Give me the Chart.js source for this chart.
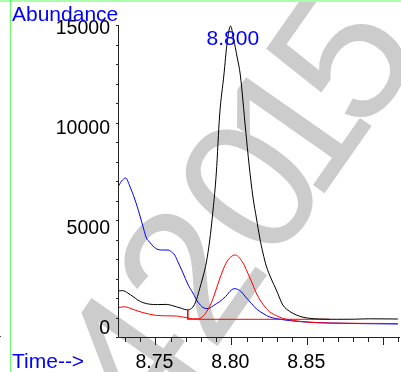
<!DOCTYPE html>
<html>
<head>
<meta charset="utf-8">
<script src="https://cdn.jsdelivr.net/npm/chart.js@4.4.0/dist/chart.umd.min.js"></script>
<style>
    html, body { margin: 0; padding: 0; background: #fff; }
    #wrap { width: 401px; height: 372px; }
</style>
</head>
<body>
<div id="wrap"><canvas id="chromChart" width="401" height="372"></canvas></div>
<script>
// Chromatogram data (retention time in min, abundance)
const blackTime = [8.7254, 8.7285, 8.7318, 8.7353, 8.7384, 8.7418, 8.7462, 8.7515, 8.7572, 8.7607,
    8.7638, 8.7673, 8.7706, 8.7732, 8.7752, 8.7772, 8.7791, 8.7813, 8.7836, 8.7857,
    8.7879, 8.7901, 8.7923, 8.7951, 8.7972, 8.7995, 8.8015, 8.8038, 8.8059, 8.8094,
    8.8117, 8.8142, 8.8166, 8.8186, 8.8208, 8.8230, 8.8263, 8.8296, 8.8339, 8.8384,
    8.8428, 8.8471, 8.8515, 8.8581, 8.8691, 8.8811, 8.8910, 8.9096];
const blackAbund = [1800, 1820, 1700, 1520, 1350, 1220, 1140, 1120, 1130, 1080,
    1010, 930, 860, 900, 1050, 1400, 1900, 2500, 3250, 4300,
    5800, 7700, 10600, 12600, 14200, 15050, 14400, 13500, 12600, 9850,
    8100, 6500, 5400, 4500, 3700, 3050, 2400, 1850, 1100, 780,
    600, 490, 435, 400, 385, 390, 410, 400];

const blueTime = [8.7254, 8.7278, 8.7305, 8.7331, 8.7364, 8.7397, 8.7423, 8.7441, 8.7462, 8.7484,
    8.7509, 8.7541, 8.7583, 8.7607, 8.7627, 8.7649, 8.7682, 8.7713, 8.7747, 8.7780,
    8.7813, 8.7838, 8.7857, 8.7884, 8.7923, 8.7963, 8.8000, 8.8022, 8.8041, 8.8066,
    8.8094, 8.8132, 8.8166, 8.8208, 8.8252, 8.8296, 8.8384, 8.8471, 8.8647, 8.8844, 8.9096];
const blueAbund = [7000, 7300, 7450, 7050, 6400, 5600, 4900, 4450, 4250, 4050,
    3900, 3850, 3850, 3750, 3600, 3250, 2700, 2150, 1700, 1250,
    980, 920, 940, 1080, 1270, 1530, 1850, 1920, 1880, 1760,
    1500, 1180, 900, 680, 500, 420, 320, 260, 200, 170, 150];

const redTime = [8.7254, 8.7298, 8.7353, 8.7418, 8.7462, 8.7507, 8.7572, 8.7638, 8.7680, 8.7714,
    8.7745, 8.7780, 8.7805, 8.7824, 8.7844, 8.7868, 8.7890, 8.7916, 8.7945, 8.7969,
    8.7989, 8.8009, 8.8028, 8.8048, 8.8066, 8.8088, 8.8109, 8.8134, 8.8164, 8.8193,
    8.8230, 8.8252, 8.8296, 8.8339, 8.8384, 8.8471, 8.8581, 8.8713, 8.8910, 8.9096];
const redAbund = [970, 1010, 880, 720, 640, 580, 560, 550, 500, 450,
    410, 410, 480, 620, 850, 1200, 1650, 2250, 2850, 3250,
    3450, 3570, 3600, 3500, 3330, 3050, 2680, 2250, 1700, 1300,
    930, 760, 570, 430, 360, 265, 210, 190, 180, 175];

// integration baseline for the red peak
const baseTime = [8.7713, 8.7713, 8.8647];
const baseAbund = [850, 385, 385];

const yTickLabels = [0, 5000, 10000, 15000];
const xTickLabels = ["8.75", "8.80", "8.85"];
const peakLabel = "8.800";
const peakTime = 8.80;

// watermark glyphs and their offsets along the text line (in em)
const wmChars = ["4", "2", "0", "1", "5"];
const wmOffsets = [-1.11, -0.556, 0, 0.40, 0.84];

const FONT = '"Liberation Sans", Arial, Helvetica, sans-serif';

function toPoints(xs, ys) {
    return xs.map((x, i) => ({ x: x, y: ys[i] }));
}

// background, watermark, axes, tick marks and titles
const chromPlugin = {
    id: "chromDecor",
    beforeDraw(chart) {
        const ctx = chart.ctx;
        const em = 190;
        ctx.save();
        ctx.fillStyle = "#fff";
        ctx.fillRect(0, 0, chart.width, chart.height);
        // watermark, "0" centred near (247,185)
        ctx.translate(303, 224);
        ctx.rotate(-55 * Math.PI / 180);
        ctx.font = em + "px " + FONT;
        ctx.fillStyle = "#cccccc";
        ctx.textAlign = "center";
        ctx.textBaseline = "alphabetic";
        wmChars.forEach((c, i) => ctx.fillText(c, wmOffsets[i] * em, 0));
        ctx.restore();
    },
    afterDraw(chart) {
        const ctx = chart.ctx;
        const area = chart.chartArea;
        const xs = chart.scales.x;
        const ys = chart.scales.y;
        ctx.save();

        // green frame lines
        ctx.strokeStyle = "#aaffaa";
        ctx.lineWidth = 2;
        ctx.beginPath();
        ctx.moveTo(0, 1);
        ctx.lineTo(chart.width, 1);
        ctx.stroke();
        ctx.strokeStyle = "#66ff66";
        ctx.lineWidth = 1;
        ctx.beginPath();
        ctx.moveTo(10.5, 0);
        ctx.lineTo(10.5, chart.height);
        ctx.stroke();

        // axis lines
        ctx.strokeStyle = "#222";
        ctx.lineWidth = 1;
        ctx.beginPath();
        ctx.moveTo(area.left + 0.5, area.top);
        ctx.lineTo(area.left + 0.5, area.bottom + 0.5);
        ctx.lineTo(area.right, area.bottom + 0.5);
        ctx.stroke();

        // y ticks
        ctx.beginPath();
        ys.ticks.forEach((t) => {
            const py = Math.round(ys.getPixelForValue(t.value)) + 0.5;
            const len = t.value % 5000 === 0 ? 4 : 2;
            ctx.moveTo(area.left, py);
            ctx.lineTo(area.left - len, py);
        });
        // x ticks
        xs.ticks.forEach((t) => {
            const px = Math.round(xs.getPixelForValue(t.value)) + 0.5;
            const major = Math.abs(t.value * 20 - Math.round(t.value * 20)) < 1e-6;
            ctx.moveTo(px, area.bottom);
            ctx.lineTo(px, area.bottom + (major ? 8 : 5));
        });
        ctx.stroke();

        // tick labels
        ctx.fillStyle = "#000";
        ctx.font = "19.5px " + FONT;
        ctx.textBaseline = "alphabetic";
        ctx.textAlign = "right";
        yTickLabels.forEach((v) => {
            ctx.fillText(String(v), area.left - 8, ys.getPixelForValue(v) + 7);
        });
        ctx.textAlign = "center";
        xTickLabels.forEach((s) => {
            ctx.fillText(s, xs.getPixelForValue(parseFloat(s)) - 1, 368);
        });

        // small mark at left edge
        ctx.fillStyle = "#444";
        ctx.fillRect(0, 336, 1, 1);

        // titles
        ctx.fillStyle = "#0000ff";
        ctx.font = "21px " + FONT;
        ctx.textAlign = "left";
        ctx.fillText("Abundance", 12, 21);
        ctx.fillText("Time-->", 12, 368);
        ctx.textAlign = "center";
        ctx.fillText(peakLabel, xs.getPixelForValue(peakTime) + 1.5, 45);
        ctx.restore();
    },
};

const ctx = document.getElementById("chromChart").getContext("2d");
new Chart(ctx, {
    type: "scatter",
    data: {
        datasets: [
            {
                label: "TIC",
                data: toPoints(blackTime, blackAbund),
                borderColor: "#000000",
            },
            {
                label: "baseline",
                data: toPoints(baseTime, baseAbund),
                borderColor: "#ff0000",
                cubicInterpolationMode: "default",
                tension: 0,
            },
            {
                label: "ion 2",
                data: toPoints(redTime, redAbund),
                borderColor: "#ff0000",
            },
            {
                label: "ion 1",
                data: toPoints(blueTime, blueAbund),
                borderColor: "#0000ff",
            },
        ],
    },
    options: {
        responsive: false,
        animation: false,
        events: [],
        datasets: {
            scatter: {
                showLine: true,
                pointRadius: 0,
                borderWidth: 1,
                cubicInterpolationMode: "monotone",
            },
        },
        layout: { padding: { top: 25, right: 1, left: 0, bottom: 0 } },
        plugins: {
            legend: { display: false },
            tooltip: { enabled: false },
        },
        scales: {
            x: {
                type: "linear",
                min: 8.7254,
                max: 8.911,
                grid: { display: false },
                border: { display: false },
                ticks: { stepSize: 0.01, autoSkip: false, includeBounds: false, display: false },
                afterFit: (s) => { s.height = 35; },
            },
            y: {
                min: -500,
                max: 15100,
                grid: { display: false },
                border: { display: false },
                ticks: { stepSize: 1000, autoSkip: false, includeBounds: false, display: false },
                afterFit: (s) => { s.width = 118; },
            },
        },
    },
    plugins: [chromPlugin],
});
</script>
</body>
</html>
